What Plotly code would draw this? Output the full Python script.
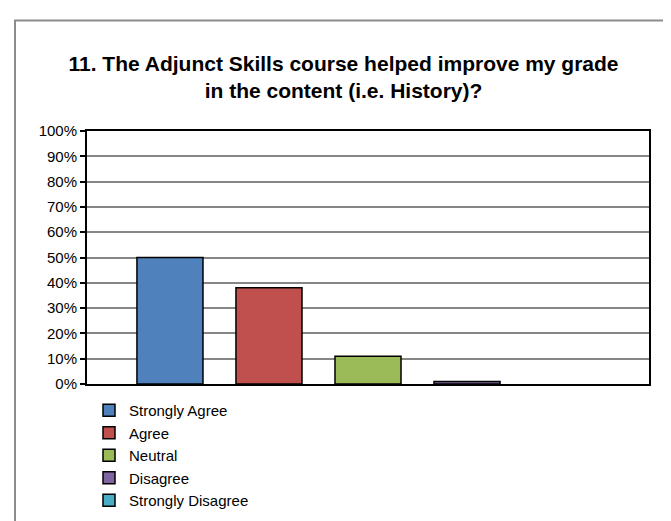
import plotly.graph_objects as go

categories = ["Strongly Agree", "Agree", "Neutral", "Disagree", "Strongly Disagree"]
values = [0.50, 0.38, 0.11, 0.01, 0.0]
colors = ["#4F81BD", "#C0504D", "#9BBB59", "#8064A2", "#4BACC6"]
tick_vals = [i / 10 for i in range(11)]
tick_text = [f"{i*10}%" for i in range(11)]
title_text = "11. The Adjunct Skills course helped improve my grade<br>in the content (i.e. History)?"

FONT = "Liberation Sans, Arial, sans-serif"

fig = go.Figure()
for name, v, c in zip(categories, values, colors):
    # data bar (no outline drawn for a zero-height bar)
    fig.add_trace(go.Bar(
        x=["Q11"], y=[v], name=name, legendgroup=name, offsetgroup=name,
        showlegend=False,
        marker=dict(color=c, line=dict(color="#000000", width=1.5 if v > 0 else 0)),
    ))
    # legend entry sharing the same slot
    fig.add_trace(go.Bar(
        x=["Q11"], y=[None], name=name, legendgroup=name, offsetgroup=name,
        showlegend=True, hoverinfo="skip",
        marker=dict(color=c, line=dict(color="#000000", width=1.5)),
    ))

fig.update_layout(
    width=671, height=521,
    margin=dict(l=79, r=30, t=123, b=137),
    paper_bgcolor="white", plot_bgcolor="white",
    font=dict(family=FONT, size=15, color="#000000"),
    title=dict(text="<b>" + title_text + "</b>", x=0.5, xanchor="center",
               y=1 - 63 / 521, yanchor="middle",
               font=dict(size=21, family=FONT)),
    barmode="group", bargap=0.119, bargroupgap=0.333,
    showlegend=True,
    legend=dict(x=(81 - 79) / 562, y=-0.04, xanchor="left", yanchor="top",
                orientation="v", tracegroupgap=0,
                font=dict(size=15), itemwidth=30, bgcolor="rgba(0,0,0,0)"),
    xaxis=dict(showticklabels=False, showline=True, linecolor="#000000", linewidth=2,
               mirror=True, ticks="", showgrid=False, layer="above traces"),
    yaxis=dict(range=[0, 1], tickvals=tick_vals, ticktext=tick_text,
               showline=True, linecolor="#000000", linewidth=2, mirror=True,
               ticks="outside", ticklen=5, tickwidth=1.5, tickcolor="#000000",
               showgrid=True, gridcolor="#868686", gridwidth=1.5,
               zeroline=False, tickfont=dict(size=15)),
    shapes=[dict(type="rect", xref="paper", yref="paper",
                 x0=(7 - 79) / 562, x1=(700 - 79) / 562,
                 y0=(384 - 540) / 261, y1=(384 - 9) / 261,
                 line=dict(color="#8C8C8C", width=2), fillcolor="rgba(0,0,0,0)",
                 layer="below")],
)

fig.write_html("out.html")
